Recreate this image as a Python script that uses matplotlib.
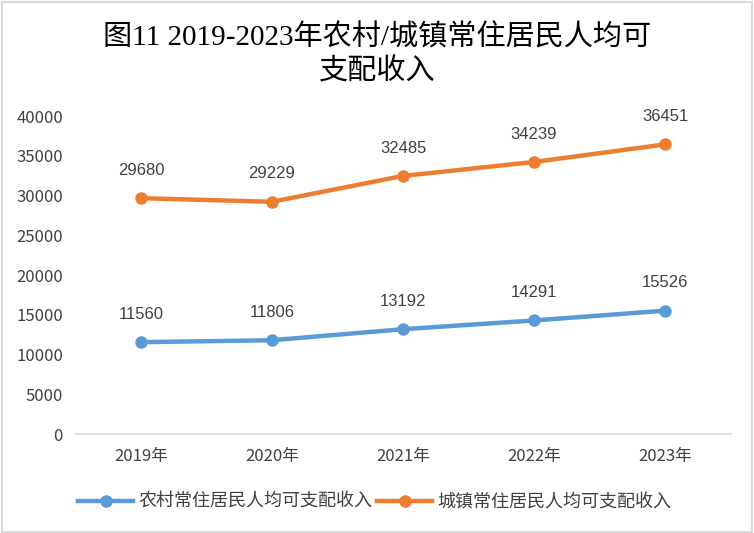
import matplotlib.pyplot as plt
from matplotlib.patches import Rectangle

years = ['2019年', '2020年', '2021年', '2022年', '2023年']
rural = [11560, 11806, 13192, 14291, 15526]
urban = [29680, 29229, 32485, 34239, 36451]
rural_name = '农村常住居民人均可支配收入'
urban_name = '城镇常住居民人均可支配收入'
title_1 = '图11 2019-2023年农村/城镇常住居民人均可'
title_2 = '支配收入'

plt.rcParams['font.family'] = ['Noto Sans CJK SC', 'DejaVu Sans']
txt = '#404040'
title_font = ['Liberation Serif', 'Noto Sans CJK SC']

fig = plt.figure(figsize=(7.54, 5.33), dpi=100)
# 外框
fig.patches.append(Rectangle((0.002, 0.002), 0.996, 0.994, transform=fig.transFigure,
                             fill=False, edgecolor='#d9d9d9', lw=1.5))
ax = fig.add_axes([0.100, 0.1857, 0.869, 0.5963])

x = list(range(len(years)))
ax.plot(x, rural, color='#5b9bd5', lw=3.2, marker='o', ms=8, label=rural_name)
ax.plot(x, urban, color='#ed7d31', lw=3.2, marker='o', ms=8, label=urban_name)
for series in (rural, urban):
    for xi, v in zip(x, series):
        ax.annotate(str(v), (xi, v), xytext=(0, 20), textcoords='offset points',
                    ha='center', va='center', fontsize=12, color=txt,
                    family='Liberation Sans')

ax.set_xlim(-0.5, len(years) - 0.5)
ax.set_ylim(0, 40000)
ax.set_yticks(range(0, 40001, 5000))
ax.set_xticks(x)
ax.set_xticklabels(years)
ax.tick_params(length=0, labelsize=12, colors=txt)
ax.tick_params(axis='x', pad=10)
ax.tick_params(axis='y', pad=9)
for s in ['top', 'right', 'left']:
    ax.spines[s].set_visible(False)
ax.spines['bottom'].set_color('#d9d9d9')
ax.spines['bottom'].set_linewidth(1.2)

fig.text(0.5, 0.928, title_1, ha='center', va='center', fontsize=21,
         color='#000000', family=title_font)
fig.text(0.5, 0.865, title_2, ha='center', va='center', fontsize=21,
         color='#000000', family=title_font)

fig.legend(loc='center', bbox_to_anchor=(0.497, 0.058), ncol=2, frameon=False,
           fontsize=13, labelcolor=txt, handlelength=3, columnspacing=0.3,
           handletextpad=0.3)

fig.savefig('out.png', dpi=100)
